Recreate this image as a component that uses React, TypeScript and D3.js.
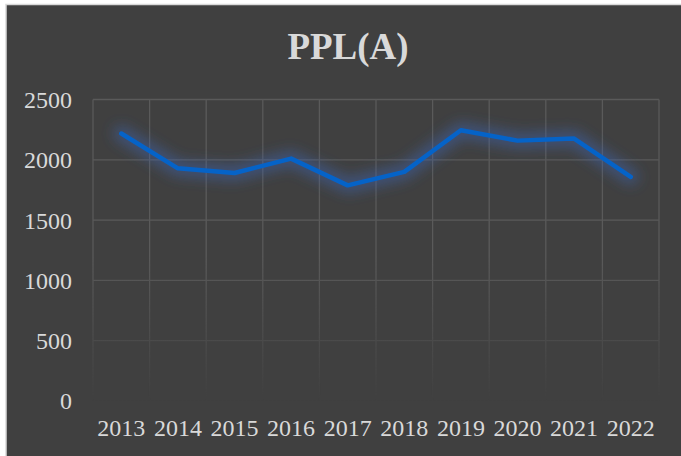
import * as d3 from 'd3';
import { useEffect, useRef } from 'react';

const years = ['2013', '2014', '2015', '2016', '2017', '2018', '2019', '2020', '2021', '2022'];
const pplA = [2218, 1929, 1891, 2010, 1788, 1900, 2245, 2159, 2176, 1858];
const yTicks = [0, 500, 1000, 1500, 2000, 2500];
const chartTitle = 'PPL(A)';

export default function App() {
    const svgRef = useRef<SVGSVGElement>(null);

    useEffect(() => {
        if (!svgRef.current) return;

        const width = 681;
        const height = 456;
        const margin = { top: 99.5, right: 22, bottom: 55, left: 93 };
        const font = '"Liberation Serif", "Times New Roman", serif';

        const svg = d3.select(svgRef.current).attr('width', width).attr('height', height);
        svg.selectAll('*').remove();

        const defs = svg.append('defs');

        const glow = defs.append('filter').attr('id', 'glow').attr('x', '-20%').attr('y', '-60%').attr('width', '140%').attr('height', '220%');
        glow.append('feGaussianBlur').attr('stdDeviation', 6.5);

        const x = d3
            .scaleBand<string>()
            .domain(years)
            .range([margin.left, width - margin.right]);

        const y = d3
            .scaleLinear()
            .domain([0, 2500])
            .range([height - margin.bottom, margin.top]);

        // fade grid out toward the bottom, like the original
        const grad = defs
            .append('linearGradient')
            .attr('id', 'fade')
            .attr('gradientUnits', 'userSpaceOnUse')
            .attr('x1', 0)
            .attr('x2', 0)
            .attr('y1', y(1200))
            .attr('y2', y(0));
        grad.append('stop').attr('offset', 0).attr('stop-color', '#fff');
        grad.append('stop').attr('offset', 1).attr('stop-color', '#000');
        defs.append('mask')
            .attr('id', 'gridMask')
            .attr('maskUnits', 'userSpaceOnUse')
            .attr('x', 0)
            .attr('y', 0)
            .attr('width', width)
            .attr('height', height)
            .append('rect')
            .attr('width', width)
            .attr('height', height)
            .attr('fill', 'url(#fade)');

        // page + chart area
        svg.append('rect').attr('width', width).attr('height', height).attr('fill', '#fff');
        svg.append('rect')
            .attr('x', 6)
            .attr('y', 4.5)
            .attr('width', width)
            .attr('height', height)
            .attr('fill', '#404040')
            .attr('stroke', '#d9d9d9')
            .attr('stroke-width', 1.5);

        svg.append('text')
            .attr('x', 348)
            .attr('y', 59)
            .attr('text-anchor', 'middle')
            .attr('font-family', font)
            .attr('font-weight', 'bold')
            .attr('font-size', 37)
            .attr('fill', '#d9d9d9')
            .text(chartTitle);

        const grid = svg.append('g').attr('mask', 'url(#gridMask)').attr('stroke', '#5a5a5a').attr('stroke-width', 1.3);

        grid.selectAll('line.h')
            .data(yTicks)
            .join('line')
            .attr('class', 'h')
            .attr('x1', margin.left)
            .attr('x2', width - margin.right)
            .attr('y1', (d) => y(d))
            .attr('y2', (d) => y(d));

        const xEdges = [...years.map((d) => x(d)!), width - margin.right];
        grid.selectAll('line.v')
            .data(xEdges)
            .join('line')
            .attr('class', 'v')
            .attr('x1', (d) => d)
            .attr('x2', (d) => d)
            .attr('y1', y(2500))
            .attr('y2', y(0));

        // y labels
        svg.append('g')
            .selectAll('text')
            .data(yTicks)
            .join('text')
            .attr('x', 72)
            .attr('y', (d) => y(d))
            .attr('dy', '0.35em')
            .attr('text-anchor', 'end')
            .attr('font-family', font)
            .attr('font-size', 24)
            .attr('fill', '#d9d9d9')
            .text((d) => d);

        // x labels
        svg.append('g')
            .selectAll('text')
            .data(years)
            .join('text')
            .attr('x', (d) => x(d)! + x.bandwidth() / 2)
            .attr('y', 436)
            .attr('text-anchor', 'middle')
            .attr('font-family', font)
            .attr('font-size', 24)
            .attr('fill', '#d9d9d9')
            .text((d) => d);

        const line = d3
            .line<number>()
            .x((_, i) => x(years[i])! + x.bandwidth() / 2)
            .y((d) => y(d));

        // soft glow under the line
        svg.append('path')
            .datum(pplA)
            .attr('d', line)
            .attr('fill', 'none')
            .attr('stroke', '#3d63b0')
            .attr('stroke-opacity', 0.5)
            .attr('stroke-width', 16)
            .attr('stroke-linejoin', 'round')
            .attr('stroke-linecap', 'round')
            .attr('filter', 'url(#glow)');

        svg.append('path')
            .datum(pplA)
            .attr('d', line)
            .attr('fill', 'none')
            .attr('stroke', '#0563c8')
            .attr('stroke-width', 4.5)
            .attr('stroke-linejoin', 'round')
            .attr('stroke-linecap', 'round');
    }, []);

    return <svg ref={svgRef} style={{ position: 'absolute', left: 0, top: 0, display: 'block' }} />;
}
